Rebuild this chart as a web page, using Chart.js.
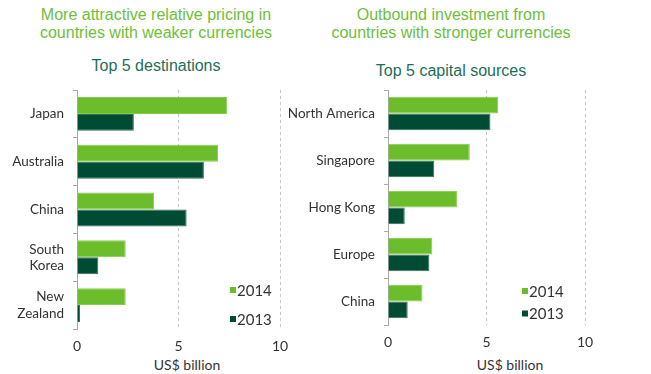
<!DOCTYPE html>
<html>
<head>
<meta charset="utf-8">
<script src="https://cdn.jsdelivr.net/npm/chart.js@4.4.0/dist/chart.umd.min.js"></script>
<style>
    body { margin: 0; background: #fff; }
    #wrap { position: relative; width: 651px; height: 374px; overflow: hidden; font-family: 'Liberation Sans', Arial, sans-serif; }
    .head { position: absolute; text-align: center; color: #6cbf3a; font-size: 16px; line-height: 18px; white-space: nowrap; transform: translateX(-50%); }
    .sub { position: absolute; text-align: center; color: #1c6f57; font-size: 16px; white-space: nowrap; transform: translateX(-50%); }
    .unit { position: absolute; font-family: Lato, sans-serif; font-size: 14px; color: #333; white-space: nowrap; transform: translateX(-50%); }
    .box { position: absolute; top: 84px; height: 290px; }
</style>
</head>
<body>
<div id="wrap">
    <div class="head" style="left:156px; top:6px;">More attractive relative pricing in<br>countries with weaker currencies</div>
    <div class="sub" style="left:156px; top:57px;">Top 5 destinations</div>
    <div class="head" style="left:451px; top:6px;">Outbound investment from<br>countries with stronger currencies</div>
    <div class="sub" style="left:451px; top:62px;">Top 5 capital sources</div>
    <div class="unit" style="left:187px; top:356px;">US$ billion</div>
    <div class="unit" style="left:510px; top:356px;">US$ billion</div>
    <div class="box" style="left:0; width:290px;"><canvas id="destChart"></canvas></div>
    <div class="box" style="left:285px; width:366px;"><canvas id="sourceChart"></canvas></div>
</div>
<script>
// Top 5 destinations (US$ billion)
const destLabels = ['Japan', 'Australia', 'China', ['South', 'Korea'], ['New', 'Zealand']];
const dest2014 = [7.4, 6.95, 3.8, 2.4, 2.4];
const dest2013 = [2.8, 6.25, 5.4, 1.05, 0.15];

// Top 5 capital sources (US$ billion)
const srcLabels = ['North America', 'Singapore', 'Hong Kong', 'Europe', 'China'];
const src2014 = [5.6, 4.15, 3.5, 2.25, 1.75];
const src2013 = [5.2, 2.35, 0.85, 2.1, 1.0];

const xTicks = [0, 5, 10];

const LIGHT = '#6cbd2b';
const DARK = '#004b33';

// small legend drawn inside the plot, bottom right
const insideLegend = {
    id: 'insideLegend',
    afterDraw(chart, args, opts) {
        const ctx = chart.ctx;
        ctx.save();
        ctx.font = '15px Lato, sans-serif';
        ctx.textBaseline = 'middle';
        chart.data.datasets.forEach((ds, i) => {
            const y = opts.y + i * opts.gap;
            ctx.fillStyle = ds.backgroundColor;
            ctx.fillRect(opts.x, y - 3, 6, 6);
            ctx.fillStyle = '#333';
            ctx.fillText(ds.label, opts.x + 7, y + 1);
        });
        ctx.restore();
    }
};

function makeChart(canvasId, labels, v2014, v2013, yWidth, xHeight, padRight, legendPos) {
    const ctx = document.getElementById(canvasId).getContext('2d');
    return new Chart(ctx, {
        type: 'bar',
        data: {
            labels: labels,
            datasets: [
                { label: '2014', data: v2014, backgroundColor: LIGHT, borderColor: '#86cc4a', borderWidth: 1 },
                { label: '2013', data: v2013, backgroundColor: DARK, borderColor: '#2f6f55', borderWidth: 1 }
            ]
        },
        options: {
            indexAxis: 'y',
            responsive: true,
            maintainAspectRatio: false,
            animation: false,
            layout: { padding: { top: 6, right: padRight, left: 0, bottom: 0 } },
            datasets: { bar: { categoryPercentage: 0.71, barPercentage: 1.0 } },
            plugins: {
                legend: { display: false },
                tooltip: { enabled: false },
                insideLegend: legendPos
            },
            scales: {
                x: {
                    min: 0,
                    max: 10,
                    afterBuildTicks: (scale) => { scale.ticks = xTicks.map(v => ({ value: v })); },
                    afterFit: (scale) => { scale.height = xHeight; scale.paddingLeft = 0; scale.paddingRight = 0; },
                    ticks: { color: '#333', font: { family: 'Lato', size: 14 }, padding: 9 },
                    grid: {
                        drawTicks: false,
                        color: (c) => c.tick && c.tick.value === 0 ? 'rgba(0,0,0,0)' : '#c4c4c4'
                    },
                    border: { display: false, dash: [3, 3] }
                },
                y: {
                    afterFit: (scale) => { scale.width = yWidth; scale.paddingTop = 0; scale.paddingBottom = 0; },
                    ticks: { color: '#333', font: { family: 'Lato', size: 13.5, lineHeight: 1.2 }, padding: 9 },
                    grid: { drawOnChartArea: false, tickLength: 4, color: '#aaa', offset: true },
                    border: { display: true, color: '#aaa' }
                }
            }
        },
        plugins: [insideLegend]
    });
}

makeChart('destChart', destLabels, dest2014, dest2013, 77, 45, 10, { x: 230, y: 206, gap: 29 });
makeChart('sourceChart', srcLabels, src2014, src2013, 103, 49, 66, { x: 237, y: 207, gap: 22.5 });
</script>
</body>
</html>
